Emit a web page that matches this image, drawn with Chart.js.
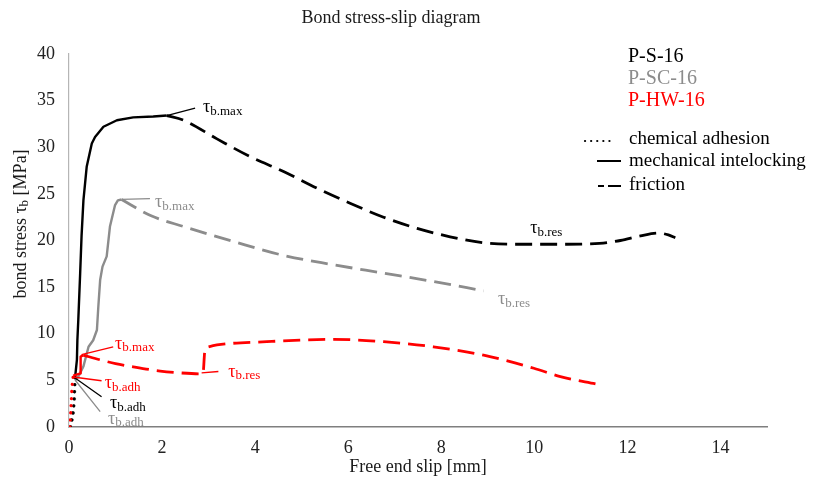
<!DOCTYPE html>
<html>
<head>
<meta charset="utf-8">
<title>Bond stress-slip diagram</title>
<script src="https://cdn.jsdelivr.net/npm/chart.js@4/dist/chart.umd.min.js"></script>
<style>
  html, body { margin: 0; padding: 0; background: #fff; }
  #wrap { width: 822px; height: 489px; }
</style>
</head>
<body>
<div id="wrap"><canvas id="c" width="822" height="489"></canvas></div>
<script>
// ---- measured curves: [slip in mm, bond stress in MPa] ----
const psAdhesion  = [[0.03,0],[0.08,1.2],[0.10,2.2],[0.11,3.1],[0.12,4.3],[0.13,5.3]];
const psMechanical = [[0.13,5.3],[0.17,7.2],[0.18,9.3],[0.20,11.5],[0.24,16.5],[0.27,20.5],[0.31,24.3],
  [0.38,27.9],[0.49,30.4],[0.56,31.1],[0.74,32.2],[1.03,32.9],[1.38,33.2],[1.81,33.3],[2.10,33.4]];
const psFriction = [[2.10,33.4],[2.46,32.9],[3.18,30.9],[3.89,29.0],[4.61,27.4],[5.33,25.6],[6.04,24.0],
  [6.76,22.5],[7.48,21.3],[8.19,20.4],[8.91,19.75],[9.63,19.6],[10.7,19.6],[11.4,19.7],[11.85,20.0],
  [12.28,20.5],[12.67,20.8],[12.88,20.6],[13.03,20.3]];

const pscAdhesion = [[0.04,0],[0.09,1.5],[0.12,3.0],[0.13,5.0]];
const pscMechanical = [[0.13,5.0],[0.20,5.4],[0.31,6.5],[0.42,8.6],[0.52,9.3],[0.60,10.4],[0.63,12.9],
  [0.67,15.8],[0.72,17.2],[0.81,18.3],[0.88,21.5],[0.99,23.8],[1.05,24.3],[1.13,24.4]];
const pscFriction = [[1.13,24.4],[1.74,22.7],[2.46,21.5],[3.53,19.9],[4.61,18.4],[5.68,17.4],
  [6.76,16.5],[7.83,15.6],[8.91,14.6]];

const phwAdhesion = [[0.02,0],[0.035,1.3],[0.045,2.4],[0.06,3.8],[0.075,4.9],[0.09,5.4]];
const phwMechanical = [[0.09,5.5],[0.25,5.75],[0.25,7.55],[0.31,7.7]];
const phwFriction = [[0.31,7.7],[0.67,7.2],[1.00,6.8],[1.38,6.45],[1.96,6.0],[2.40,5.8],[2.82,5.7],
  [2.88,5.75],[2.92,8.2],[3.00,8.6],[3.18,8.8],[4.25,9.15],[5.68,9.4],[6.76,9.15],[7.83,8.6],
  [8.91,7.7],[9.99,6.3],[10.56,5.4],[11.35,4.6]];

// leader lines from characteristic points to their labels (null = break)
const psLeaders  = [[2.10,33.4],[2.71,34.2],null,[0.13,5.25],[0.70,3.25]];
const pscLeaders = [[1.13,24.4],[1.74,24.5],null,[0.13,5.04],[0.67,1.64]];
const phwLeaders = [[0.27,7.75],[0.95,8.6],null,[2.85,5.8],[3.21,5.95],null,[0.086,5.36],[0.70,4.96]];

// axis ticks
const xTickStep = 2, xMax = 15;
const yTickStep = 5, yMax = 40;

const specimenNames = ['P-S-16', 'P-SC-16', 'P-HW-16'];
const mechanismNames = ['chemical adhesion', 'mechanical intelocking', 'friction'];

// ---- styling ----
const BLACK = '#000000', GRAY = '#8c8c8c', RED = '#ff0000';
const SERIF = '"Liberation Serif", "Times New Roman", serif';

const toXY = arr => arr.map(p => p ? { x: p[0], y: p[1] } : { x: null, y: null });

function series(points, color, kind) {
  const base = { data: toXY(points), borderColor: color, backgroundColor: color,
    pointRadius: 0, fill: false, tension: 0 };
  if (kind === 'dot') return Object.assign(base, { borderWidth: 3.2, borderDash: [0.1, 7], borderCapStyle: 'round' });
  if (kind === 'solid') return Object.assign(base, { borderWidth: 2.4, borderJoinStyle: 'round' });
  if (kind === 'dash') return Object.assign(base, { borderWidth: 2.8, borderDash: [17, 8], cubicInterpolationMode: 'monotone' });
  return Object.assign(base, { borderWidth: 1.3, spanGaps: false });
}

// labels of characteristic stresses: [subscript, slip, stress, colour]
const tauLabels = [
  ['b.max', 2.88, 34.3, BLACK], ['b.res', 9.91, 21.3, BLACK], ['b.adh', 0.88, 2.5, BLACK],
  ['b.max', 1.85, 24.1, GRAY],  ['b.res', 9.22, 13.7, GRAY],  ['b.adh', 0.84, 0.86, GRAY],
  ['b.max', 0.99, 8.9, RED],    ['b.res', 3.42, 5.9, RED],    ['b.adh', 0.77, 4.7, RED]
];

function drawTau(ctx, x, y, sub, color, size) {
  ctx.fillStyle = color;
  ctx.textAlign = 'left';
  ctx.textBaseline = 'middle';
  ctx.font = size + 'px ' + SERIF;
  ctx.fillText('\u03C4', x, y);
  const w = ctx.measureText('\u03C4').width;
  ctx.font = Math.round(size * 0.72) + 'px ' + SERIF;
  ctx.fillText(sub, x + w, y + size * 0.22);
}

const textPlugin = {
  id: 'texts',
  afterDraw(chart) {
    const ctx = chart.ctx, xs = chart.scales.x, ys = chart.scales.y, area = chart.chartArea;
    ctx.save();
    // title
    ctx.fillStyle = '#1a1a1a';
    ctx.font = '18px ' + SERIF;
    ctx.textAlign = 'center';
    ctx.textBaseline = 'middle';
    ctx.fillText('Bond stress-slip diagram', 391, 18);

    // x axis title
    ctx.font = '18px ' + SERIF;
    ctx.fillText('Free end slip [mm]', (area.left + area.right) / 2, 467);

    // y axis title with subscript
    ctx.save();
    ctx.translate(21, 224);
    ctx.rotate(-Math.PI / 2);
    const p1 = 'bond stress \u03C4', p2 = 'b', p3 = ' [MPa]';
    ctx.font = '18px ' + SERIF;
    const w1 = ctx.measureText(p1).width, w3 = ctx.measureText(p3).width;
    ctx.font = '13px ' + SERIF;
    const w2 = ctx.measureText(p2).width;
    let x0 = -(w1 + w2 + w3) / 2;
    ctx.textAlign = 'left';
    ctx.font = '18px ' + SERIF;
    ctx.fillText(p1, x0, 0);
    ctx.font = '13px ' + SERIF;
    ctx.fillText(p2, x0 + w1, 4);
    ctx.font = '18px ' + SERIF;
    ctx.fillText(p3, x0 + w1 + w2, 0);
    ctx.restore();

    // characteristic stress labels
    tauLabels.forEach(([sub, sx, sy, col]) => {
      drawTau(ctx, xs.getPixelForValue(sx), ys.getPixelForValue(sy), sub, col, 18);
    });

    // specimen legend
    ctx.textAlign = 'left';
    ctx.textBaseline = 'middle';
    ctx.font = '20px ' + SERIF;
    [BLACK, GRAY, RED].forEach((c, i) => {
      ctx.fillStyle = c;
      ctx.fillText(specimenNames[i], 628, 57 + i * 22);
    });

    // mechanism legend
    ctx.font = '19px ' + SERIF;
    ctx.fillStyle = BLACK;
    const rows = [139, 161, 185];
    mechanismNames.forEach((t, i) => ctx.fillText(t, 629, rows[i]));
    ctx.strokeStyle = BLACK;
    // dotted sample
    ctx.lineWidth = 2.2; ctx.lineCap = 'round'; ctx.setLineDash([0.1, 6]);
    ctx.beginPath(); ctx.moveTo(585, rows[0] + 2); ctx.lineTo(613, rows[0] + 2); ctx.stroke();
    // solid sample
    ctx.lineCap = 'butt'; ctx.setLineDash([]); ctx.lineWidth = 2;
    ctx.beginPath(); ctx.moveTo(597, rows[1]); ctx.lineTo(621, rows[1]); ctx.stroke();
    // dashed sample
    ctx.setLineDash([6, 4, 14, 4]);
    ctx.beginPath(); ctx.moveTo(598, rows[2] + 1); ctx.lineTo(621, rows[2] + 1); ctx.stroke();
    ctx.restore();
  }
};

new Chart(document.getElementById('c'), {
  type: 'line',
  data: {
    datasets: [
      series(phwLeaders, RED, 'lead'),
      series(phwAdhesion, RED, 'dot'),
      series(phwMechanical, RED, 'solid'),
      series(phwFriction, RED, 'dash'),
      series(psLeaders, BLACK, 'lead'),
      series(psAdhesion, BLACK, 'dot'),
      series(psMechanical, BLACK, 'solid'),
      series(psFriction, BLACK, 'dash'),
      series(pscLeaders, GRAY, 'lead'),
      series(pscAdhesion, GRAY, 'dot'),
      series(pscMechanical, GRAY, 'solid'),
      series(pscFriction, GRAY, 'dash')
    ]
  },
  options: {
    responsive: false,
    animation: false,
    devicePixelRatio: 1,
    layout: { padding: { top: 54, right: 55, left: 0, bottom: 0 } },
    plugins: { legend: { display: false }, title: { display: false }, tooltip: { enabled: false } },
    scales: {
      x: {
        type: 'linear', min: 0, max: xMax,
        grid: { display: false, drawTicks: false },
        border: { display: true, color: '#7f7f7f', width: 1.5 },
        ticks: { stepSize: xTickStep, includeBounds: false, padding: 10, color: '#222',
                 font: { family: SERIF, size: 18 } },
        afterFit(s) { s.height = 62; }
      },
      y: {
        type: 'linear', min: 0, max: yMax,
        grid: { display: false, drawTicks: false },
        border: { display: true, color: '#b5b5b5', width: 1.2 },
        ticks: { stepSize: yTickStep, padding: 14, color: '#222',
                 font: { family: SERIF, size: 18 } },
        afterFit(s) { s.width = 69; }
      }
    }
  },
  plugins: [textPlugin]
});
</script>
</body>
</html>
